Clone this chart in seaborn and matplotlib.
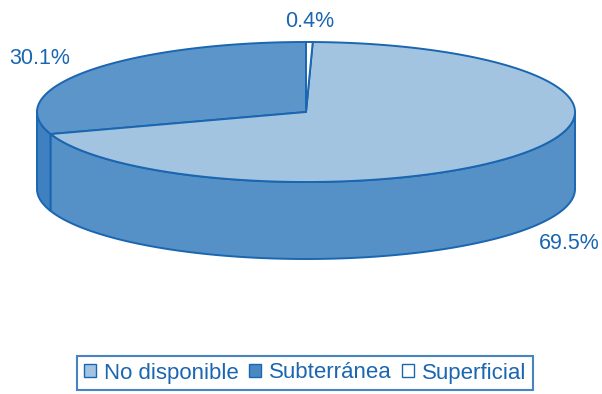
import numpy as np
import matplotlib
matplotlib.use("Agg")
import matplotlib.pyplot as plt
import seaborn as sns
from matplotlib.patches import Patch

# Data
categories = ["No disponible", "Subterránea", "Superficial"]
values = [69.5, 30.1, 0.4]
labels = ["69.5%", "30.1%", "0.4%"]

# Style
top_colors = {"No disponible": "#a3c4e0", "Subterránea": "#5b95c9", "Superficial": "#ffffff"}
side_colors = {"No disponible": "#5590c6", "Subterránea": "#3f80c0", "Superficial": "#ffffff"}
legend_colors = {"No disponible": "#a3c4e0", "Subterránea": "#4a88c3", "Superficial": "#ffffff"}
edge = "#1a66b0"

sns.set_theme(style="white")
plt.rcParams["font.family"] = ["Liberation Sans", "DejaVu Sans"]

fig = plt.figure(figsize=(6.02, 3.94), dpi=100)
ax = fig.add_axes([0, 0, 1, 1])
ax.set_xlim(0, 602)
ax.set_ylim(394, 0)
ax.axis("off")

# layout of the 3D disc (pixels)
cx, cy, a, b, depth = 306, 112, 269, 70, 77

# draw order around the disc (counter-clockwise from 12 o'clock)
order = ["Subterránea", "No disponible", "Superficial"]
vals = dict(zip(categories, values))
labs = dict(zip(categories, labels))
total = sum(values)
start = 90.0
spans = {}
for c in order:
    ext = vals[c] / total * 360
    spans[c] = (start, start + ext)
    start += ext

# side walls (front half: 180..360)
for c in order:
    s, e = spans[c]
    for off in (0, -360, 360):
        lo, hi = max(s + off, 180), min(e + off, 360)
        if hi > lo:
            th = np.linspace(lo, hi, 200)
            xs_t = cx + a * np.cos(np.radians(th))
            ys_t = cy - b * np.sin(np.radians(th))
            xs = np.concatenate([xs_t, xs_t[::-1]])
            ys = np.concatenate([ys_t, ys_t[::-1] + depth])
            ax.fill(xs, ys, facecolor=side_colors[c], edgecolor=edge, linewidth=1.4, zorder=1)

# top wedges
for c in order:
    s, e = spans[c]
    th = np.linspace(s, e, 300)
    xs = np.concatenate([[cx], cx + a * np.cos(np.radians(th)), [cx]])
    ys = np.concatenate([[cy], cy - b * np.sin(np.radians(th)), [cy]])
    ax.fill(xs, ys, facecolor=top_colors[c], edgecolor=edge, linewidth=1.4, zorder=2)

# labels
for c in order:
    s, e = spans[c]
    m = np.radians((s + e) / 2)
    x = cx + a * 1.22 * np.cos(m)
    y = cy - b * 1.3 * np.sin(m)
    if np.sin(m) < 0:
        y += depth
    ax.text(x, y, labs[c], ha="center", va="center", fontsize=15.5,
            color=edge, zorder=3)

handles = [Patch(facecolor=legend_colors[c], edgecolor=edge, linewidth=1.0) for c in categories]
leg = fig.legend(handles, categories, loc="center", bbox_to_anchor=(305 / 602, 1 - 373 / 394),
                 ncol=3, frameon=True, fancybox=False, fontsize=16,
                 handlelength=0.55, handleheight=0.55, handletextpad=0.35,
                 columnspacing=0.45, borderpad=0.3, borderaxespad=0, labelcolor=edge)
leg.get_frame().set_edgecolor(edge)
leg.get_frame().set_linewidth(1.5)

fig.savefig("out.png", dpi=100)
